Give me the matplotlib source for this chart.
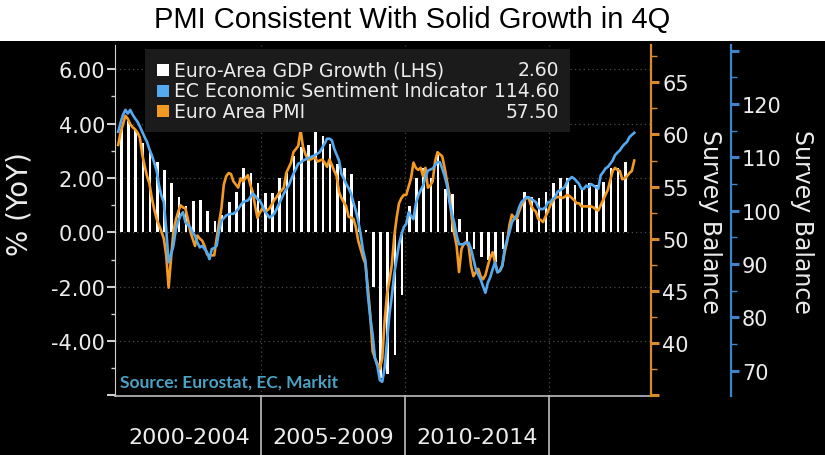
import matplotlib
matplotlib.use("Agg")
import matplotlib.pyplot as plt
import numpy as np
from matplotlib.patches import Rectangle
from matplotlib.ticker import MultipleLocator, FixedLocator, FuncFormatter

plt.rcParams['axes.unicode_minus'] = False
plt.rcParams['font.family'] = ['DejaVu Sans']

# ---------------- data ----------------
title = "PMI Consistent With Solid Growth in 4Q"
series_names = ["Euro-Area GDP Growth (LHS)", "EC Economic Sentiment Indicator", "Euro Area PMI"]
period_labels = ["2000-2004", "2005-2009", "2010-2014"]
period_bounds = [2005, 2010, 2015]
source_text = "Source: Eurostat, EC, Markit"
start_year = 2000
left_ticks = [-6, -4, -2, 0, 2, 4, 6]
left_labelled = [-4, -2, 0, 2, 4, 6]
pmi_ticks = [35, 40, 45, 50, 55, 60, 65]
pmi_labelled = [40, 45, 50, 55, 60, 65]
esi_ticks = [70, 80, 90, 100, 110, 120, 130]
esi_labelled = [70, 80, 90, 100, 110, 120]

# Quarterly GDP growth, % YoY (2000Q1 .. 2017Q3)
gdp_yoy = [3.8, 4.1, 3.75, 3.3,
           3.0, 2.6, 2.3, 1.8,
           1.3, 0.95, 1.15, 1.2,
           0.8, 0.4, 0.65, 1.1,
           1.5, 2.35, 2.2, 1.8,
           1.45, 1.45, 2.0, 2.2,
           2.8, 3.15, 3.2, 3.75,
           3.55, 3.25, 2.5, 2.35,
           2.15, 1.15, 0.1, -2.0,
           -5.35, -5.2, -4.5, -2.3,
           0.95, 2.0, 2.35, 2.0,
           2.85, 1.6, 1.4, 0.5,
           -0.4, -0.6, -0.9, -1.0,
           -1.1, -0.6, 0.2, 0.5,
           1.5, 1.3, 1.25, 1.5,
           1.8, 2.0, 2.0, 1.75,
           1.6, 1.8, 1.75, 1.85,
           2.35, 2.35, 2.6]

# Monthly Euro Area composite PMI (Jan 2000 .. Dec 2017)
pmi = [59.0, 60.2, 61.0, 61.8, 61.5, 61.0, 60.7, 60.5, 60.2, 59.7, 58.1, 57.0,
       56.0, 55.3, 53.9, 52.8, 51.9, 51.3, 50.7, 50.0, 48.4, 45.3, 48.1, 50.7,
       51.8, 52.6, 53.2, 53.0, 52.9, 51.9, 50.7, 50.0, 49.3, 50.3, 50.0, 49.8,
       49.3, 48.5, 48.4, 48.4, 48.4, 50.0, 51.5, 52.9, 55.2, 56.0, 56.3, 56.2,
       55.5, 55.2, 54.9, 55.8, 55.5, 55.8, 56.1, 55.2, 54.5, 53.2, 52.0, 52.5,
       52.9, 52.6, 52.7, 52.9, 53.3, 53.7, 54.0, 54.4, 54.6, 54.9, 56.3, 56.8,
       57.3, 58.3, 58.6, 58.9, 60.4, 58.8, 58.1, 57.6, 57.6, 57.7, 57.8, 57.4,
       57.5, 57.6, 57.3, 56.9, 57.6, 57.1, 56.5, 56.0, 54.5, 53.9, 53.5, 53.1,
       52.1, 52.0, 51.9, 51.1, 49.8, 49.0, 48.2, 47.6, 45.3, 42.7, 39.2, 38.5,
       38.0, 37.5, 38.5, 42.1, 44.7, 46.0, 47.5, 50.2, 52.0, 53.4, 53.9, 54.2,
       54.2, 55.0, 55.8, 57.3, 56.8, 56.6, 56.8, 56.0, 56.8, 54.9, 55.1, 55.5,
       57.4, 58.3, 58.1, 57.9, 56.8, 55.5, 54.2, 51.9, 50.5, 49.3, 46.8, 49.0,
       49.5, 49.7, 49.3, 47.4, 46.4, 46.8, 47.1, 46.4, 46.1, 46.5, 47.4, 48.2,
       48.7, 47.7, 46.8, 46.9, 47.4, 48.7, 49.7, 51.3, 52.3, 52.0, 51.9, 52.6,
       53.2, 53.6, 53.9, 53.9, 53.2, 52.8, 52.6, 51.9, 51.8, 51.6, 52.1, 52.6,
       53.2, 53.6, 53.9, 54.0, 54.0, 53.9, 54.0, 54.2, 54.1, 53.9, 53.7, 53.4,
       53.4, 53.1, 53.1, 53.1, 53.1, 53.1, 53.0, 52.8, 52.7, 53.2, 53.7, 54.2,
       54.7, 55.6, 56.5, 56.8, 56.6, 56.5, 55.7, 55.8, 56.0, 56.3, 56.5, 57.5]

# Monthly EC Economic Sentiment Indicator (Jan 2000 .. Dec 2017)
esi = [114.8, 116.5, 118.0, 118.9, 118.2, 118.9, 118.0, 117.3, 116.7, 115.8, 114.8, 113.8,
       112.9, 111.5, 110.4, 109.0, 107.5, 104.7, 102.8, 101.6, 96.5, 90.3, 91.8, 93.4,
       96.5, 98.0, 99.1, 99.7, 97.8, 97.3, 96.9, 95.9, 95.3, 94.0, 93.1, 93.4,
       92.8, 92.2, 90.9, 92.8, 93.0, 93.4, 96.2, 98.1, 98.6, 99.1, 99.3, 99.4,
       99.4, 99.8, 100.3, 101.0, 101.6, 101.8, 101.9, 102.5, 103.2, 102.8, 102.2, 101.9,
       101.0, 100.0, 99.3, 98.7, 99.0, 99.4, 100.3, 101.3, 102.2, 103.2, 104.0, 104.7,
       105.8, 106.9, 107.8, 108.8, 109.0, 109.4, 109.6, 109.8, 110.0, 110.2, 110.4, 110.7,
       111.0, 111.8, 112.6, 113.5, 113.5, 113.2, 111.6, 110.5, 109.4, 106.9, 106.0, 105.0,
       104.2, 103.2, 101.5, 100.0, 98.0, 95.6, 92.5, 90.6, 84.3, 80.0, 76.7, 72.3,
       70.8, 68.2, 67.9, 70.5, 75.5, 80.5, 84.0, 88.1, 91.0, 93.7, 95.5, 96.9,
       97.5, 99.7, 99.0, 98.4, 101.3, 102.8, 103.8, 104.7, 106.3, 107.5, 107.7, 107.9,
       108.5, 109.1, 109.1, 107.9, 106.5, 104.7, 101.6, 99.5, 97.8, 95.3, 93.7, 93.7,
       93.7, 94.0, 94.0, 92.8, 90.9, 89.0, 88.0, 87.1, 85.8, 84.6, 86.5, 87.5,
       89.0, 90.3, 88.4, 88.8, 89.6, 92.8, 94.5, 95.9, 97.8, 98.5, 99.1, 100.6,
       101.6, 102.0, 102.5, 102.5, 102.2, 101.9, 101.6, 100.6, 100.3, 100.3, 100.6, 101.6,
       101.6, 102.2, 102.5, 103.5, 103.8, 104.1, 104.4, 105.4, 105.9, 106.3, 106.0, 105.5,
       105.0, 104.1, 104.1, 104.7, 104.4, 105.0, 104.7, 104.4, 104.1, 106.6, 107.2, 107.9,
       108.2, 108.8, 109.4, 110.4, 110.9, 111.3, 112.0, 112.5, 112.9, 113.8, 114.2, 114.6]

# ---------------- styling ----------------
W, H = 825, 456
C_ORANGE = '#f39a22'
C_BLUE = '#55a9ef'
C_ORANGE_AX = '#d98b2c'
C_BLUE_AX = '#3e84c8'
C_TEXT = '#ececec'
C_GRID = '#4a4a4a'


def fx(px):
    return px / W


def fy(py):
    return 1 - py / H


def selective(labelled, fmt):
    return FuncFormatter(lambda v, pos: (fmt % v) if any(abs(v - l) < 1e-6 for l in labelled) else '')


fig = plt.figure(figsize=(W / 100, H / 100), dpi=100, facecolor='white')
fig.add_artist(Rectangle((0, 0), 1, fy(42), transform=fig.transFigure,
                         facecolor='black', edgecolor='none', zorder=-10))
fig.text(0.5, fy(20), title, ha='center', va='center', fontsize=21,
         family=['Liberation Sans', 'DejaVu Sans'], color='black')

ax_l, ax_r, ax_t, ax_b = 115, 651, 46, 397
ax = fig.add_axes([fx(ax_l), fy(ax_b), fx(ax_r - ax_l), (ax_b - ax_t) / H])
ax.set_facecolor('black')

x_q = start_year + 0.15 + 0.25 * np.arange(len(gdp_yoy))
x_m = start_year + (np.arange(len(pmi)) + 0.5) / 12.0

ax.set_xlim(1999.93, 2018.54)
ax.set_ylim(-6.02, 6.89)
ax.bar(x_q, gdp_yoy, width=0.09, color='white', zorder=3)

# grid
for v in left_labelled:
    ax.axhline(v, color=C_GRID, lw=0.9, ls=(0, (1, 2.5)), zorder=1)
for b in period_bounds:
    ax.axvline(b, color=C_GRID, lw=0.9, ls=(0, (1, 2.5)), zorder=1)

ax.yaxis.set_major_locator(FixedLocator(left_ticks))
ax.yaxis.set_minor_locator(MultipleLocator(1))
ax.yaxis.set_major_formatter(selective(left_labelled, '%.2f'))
ax.tick_params(axis='y', which='major', colors='#cfcfcf', labelcolor=C_TEXT,
               labelsize=15, length=6, width=1.5, pad=1)
ax.tick_params(axis='y', which='minor', colors='#cfcfcf', length=3, width=1)
ax.set_xticks([])
for s in ['top', 'right']:
    ax.spines[s].set_visible(False)
ax.spines['left'].set_color('#cfcfcf')
ax.spines['bottom'].set_color('#bdbdbd')
ax.spines['bottom'].set_linewidth(1.2)

# period separators and labels
sep_len = (H - ax_b) / (ax_b - ax_t)
for b in period_bounds:
    ax.plot([b, b], [0, -sep_len], transform=ax.get_xaxis_transform(),
            color='#bdbdbd', lw=1.2, clip_on=False)
label_y = -(438 - ax_b) / (ax_b - ax_t)
for i, lab in enumerate(period_labels):
    ax.text(start_year + 2.5 + 5 * i, label_y, lab, transform=ax.get_xaxis_transform(),
            ha='center', va='center', fontsize=16, color=C_TEXT)

# PMI axis
ax2 = ax.twinx()
ax2.set_ylim(34.9, 68.59)
ax2.plot(x_m, pmi, color=C_ORANGE, lw=1.9, zorder=4)
ax2.yaxis.set_major_locator(FixedLocator(pmi_ticks))
ax2.yaxis.set_minor_locator(MultipleLocator(2.5))
ax2.yaxis.set_major_formatter(selective(pmi_labelled, '%d'))
ax2.tick_params(axis='y', which='major', colors=C_ORANGE_AX, labelcolor=C_TEXT,
                labelsize=15, length=6, width=2.2, pad=2)
ax2.tick_params(axis='y', which='minor', colors=C_ORANGE_AX, length=4, width=1)
for s in ['top', 'left', 'bottom']:
    ax2.spines[s].set_visible(False)
ax2.spines['right'].set_color(C_ORANGE_AX)
ax2.spines['right'].set_linewidth(1.6)

# ESI axis
ax3 = ax.twinx()
ax3.set_ylim(65.23, 131.07)
ax3.plot(x_m, esi, color=C_BLUE, lw=1.9, zorder=5)
ax3.spines['right'].set_position(('axes', (731 - ax_l) / (ax_r - ax_l)))
ax3.yaxis.set_major_locator(FixedLocator(esi_ticks))
ax3.yaxis.set_minor_locator(MultipleLocator(5))
ax3.yaxis.set_major_formatter(selective(esi_labelled, '%d'))
ax3.tick_params(axis='y', which='major', colors=C_BLUE_AX, labelcolor=C_TEXT,
                labelsize=15, length=6, width=2.2, pad=2)
ax3.tick_params(axis='y', which='minor', colors=C_BLUE_AX, length=4, width=1)
for s in ['top', 'left', 'bottom']:
    ax3.spines[s].set_visible(False)
ax3.spines['right'].set_color(C_BLUE_AX)
ax3.spines['right'].set_linewidth(1.6)
ax3.set_xlim(ax.get_xlim())

# axis titles
fig.text(fx(20), fy(204), "% (YoY)", rotation=90, ha='center', va='center',
         fontsize=20, color=C_TEXT)
fig.text(fx(710), fy(222), "Survey Balance", rotation=270, ha='center', va='center',
         fontsize=17, color=C_TEXT)
fig.text(fx(802), fy(222), "Survey Balance", rotation=270, ha='center', va='center',
         fontsize=17, color=C_TEXT)

# source
fig.text(fx(120), fy(383), source_text, ha='left', va='center', fontsize=12.5,
         family=['Lato', 'DejaVu Sans'], fontweight='bold', color='#4aa2c4', zorder=20)

# legend box
fig.add_artist(Rectangle((fx(145), fy(133)), fx(570 - 145), (133 - 50) / H,
                         transform=fig.transFigure, facecolor='#1b1b1b',
                         edgecolor='none', zorder=10))
legend_colors = ['white', C_BLUE, C_ORANGE]
legend_values = [gdp_yoy[-1], esi[-1], pmi[-1]]
row_y = [71, 91.5, 112]
for name, col, val, ry in zip(series_names, legend_colors, legend_values, row_y):
    fig.add_artist(Rectangle((fx(157), fy(ry + 6)), fx(12), 12 / H,
                             transform=fig.transFigure, facecolor=col,
                             edgecolor='none', zorder=11))
    fig.text(fx(174), fy(ry), name, ha='left', va='center', fontsize=13.5,
             color=C_TEXT, zorder=12)
    fig.text(fx(559), fy(ry), f"{val:.2f}", ha='right', va='center', fontsize=13.5,
             color=C_TEXT, zorder=12)

fig.savefig("out.png", dpi=100, facecolor=fig.get_facecolor())
